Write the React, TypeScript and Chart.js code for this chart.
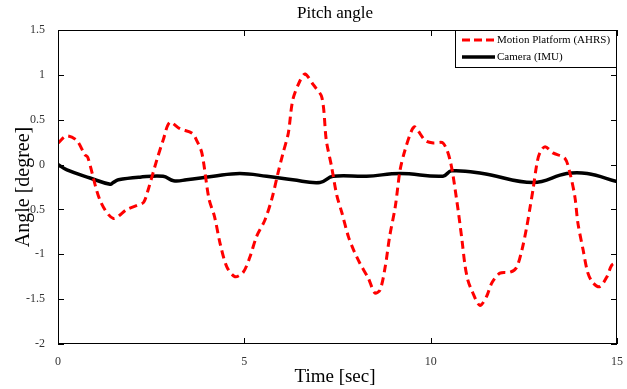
import React, { useEffect, useRef } from 'react';
import { Chart, registerables } from 'chart.js';
Chart.register(...registerables);

const TITLE = 'Pitch angle';
const X_LABEL = 'Time [sec]';
const Y_LABEL = 'Angle [degree]';
const SERIES_NAMES = ['Motion Platform (AHRS)', 'Camera (IMU)'];

const redT = [0, 0.23, 0.5, 0.72, 0.8, 1.13, 1.48, 1.85, 2.15, 2.3, 2.42, 2.65, 2.82, 3.0, 3.27, 3.6, 3.72, 3.86, 4.05, 4.2, 4.35, 4.53, 4.75, 4.97, 5.15, 5.33, 5.55, 5.74, 5.9, 6.04, 6.18, 6.3, 6.5, 6.63, 6.85, 7.08, 7.2, 7.34, 7.48, 7.62, 7.79, 7.93, 8.1, 8.33, 8.5, 8.64, 8.78, 8.9, 9.05, 9.18, 9.31, 9.5, 9.58, 9.85, 10.07, 10.33, 10.52, 10.7, 10.84, 10.92, 11.0, 11.1, 11.32, 11.5, 11.64, 11.86, 12.13, 12.3, 12.45, 12.58, 12.67, 12.75, 12.85, 12.93, 13.07, 13.28, 13.6, 13.74, 13.87, 13.95, 14.09, 14.22, 14.36, 14.54, 14.73, 14.86, 15.0];
const redV = [0.24, 0.32, 0.27, 0.11, 0.08, -0.4, -0.6, -0.5, -0.45, -0.42, -0.28, 0.05, 0.27, 0.47, 0.4, 0.35, 0.27, 0.13, -0.38, -0.58, -0.88, -1.14, -1.25, -1.2, -1.03, -0.8, -0.62, -0.38, -0.1, 0.13, 0.35, 0.72, 0.94, 1.01, 0.89, 0.75, 0.27, -0.02, -0.34, -0.54, -0.8, -0.95, -1.1, -1.27, -1.43, -1.4, -1.14, -0.8, -0.47, -0.06, 0.16, 0.39, 0.42, 0.27, 0.24, 0.24, 0.05, -0.4, -0.84, -1.12, -1.29, -1.4, -1.57, -1.47, -1.32, -1.21, -1.2, -1.15, -0.95, -0.69, -0.47, -0.27, 0.01, 0.13, 0.2, 0.13, 0.07, -0.1, -0.36, -0.65, -0.95, -1.21, -1.32, -1.36, -1.25, -1.12, -1.09];

const blackT = [0, 0.24, 0.86, 1.4, 1.48, 1.62, 2.2, 2.82, 3.1, 3.45, 4.17, 4.88, 5.6, 6.3, 7.03, 7.38, 8.28, 9.18, 10.33, 10.56, 11.4, 12.75, 13.65, 14.2, 15.0];
const blackV = [0, -0.06, -0.15, -0.22, -0.2, -0.17, -0.14, -0.13, -0.18, -0.17, -0.13, -0.1, -0.13, -0.17, -0.2, -0.13, -0.13, -0.1, -0.13, -0.07, -0.1, -0.2, -0.1, -0.1, -0.19];

const xTicks = [0, 5, 10, 15];
const yTicks = [-2, -1.5, -1, -0.5, 0, 0.5, 1, 1.5];

const FONT = '"Liberation Serif", "Times New Roman", serif';

const chrome = {
  id: 'chrome',
  afterDraw(chart: any) {
    const { ctx, chartArea: a, scales } = chart;
    ctx.save();
    // frame
    ctx.strokeStyle = '#000';
    ctx.lineWidth = 1;
    ctx.strokeRect(a.left + 0.5, a.top + 0.5, a.right - a.left - 1, a.bottom - a.top - 1);
    // inside ticks
    ctx.beginPath();
    for (const v of xTicks) {
      const px = Math.round(scales.x.getPixelForValue(v)) + 0.5;
      ctx.moveTo(px, a.bottom); ctx.lineTo(px, a.bottom - 6);
      ctx.moveTo(px, a.top); ctx.lineTo(px, a.top + 6);
    }
    for (const v of yTicks) {
      const py = Math.round(scales.y.getPixelForValue(v)) + 0.5;
      ctx.moveTo(a.left, py); ctx.lineTo(a.left + 6, py);
      ctx.moveTo(a.right, py); ctx.lineTo(a.right - 6, py);
    }
    ctx.stroke();
    // title and axis titles
    ctx.fillStyle = '#000';
    ctx.textAlign = 'center';
    ctx.textBaseline = 'alphabetic';
    ctx.font = '17px ' + FONT;
    ctx.fillText(TITLE, 335, 18);
    ctx.font = '19px ' + FONT;
    ctx.fillText(X_LABEL, 335, 382);
    ctx.save();
    ctx.translate(29, (a.top + a.bottom) / 2);
    ctx.rotate(-Math.PI / 2);
    ctx.font = '20px ' + FONT;
    ctx.fillText(Y_LABEL, 0, 0);
    ctx.restore();
    // legend
    const lx = 455, ly = a.top, lw = a.right - lx, lh = 38;
    ctx.fillStyle = '#fff';
    ctx.fillRect(lx, ly, lw, lh);
    ctx.strokeStyle = '#000';
    ctx.lineWidth = 1;
    ctx.strokeRect(lx + 0.5, ly + 0.5, lw - 1, lh - 1);
    ctx.lineWidth = 3;
    ctx.strokeStyle = '#ff0000';
    ctx.setLineDash([8, 4]);
    ctx.beginPath();
    ctx.moveTo(462, ly + 10); ctx.lineTo(495, ly + 10);
    ctx.stroke();
    ctx.setLineDash([]);
    ctx.strokeStyle = '#000';
    ctx.lineWidth = 3.5;
    ctx.beginPath();
    ctx.moveTo(462, ly + 27); ctx.lineTo(495, ly + 27);
    ctx.stroke();
    ctx.fillStyle = '#000';
    ctx.textAlign = 'left';
    ctx.textBaseline = 'middle';
    ctx.font = '11px ' + FONT;
    ctx.fillText(SERIES_NAMES[0], 497, ly + 10);
    ctx.fillText(SERIES_NAMES[1], 497, ly + 27);
    ctx.restore();
  },
};

const fmt = (v: any) => String(v);

export default function App() {
  const ref = useRef<HTMLCanvasElement>(null);
  useEffect(() => {
    if (!ref.current) return;
    const chart = new Chart(ref.current, {
      type: 'line',
      data: {
        datasets: [
          {
            label: SERIES_NAMES[0],
            data: redT.map((t, i) => ({ x: t, y: redV[i] })),
            borderColor: '#ff0000',
            borderWidth: 3,
            borderDash: [8, 5],
            pointRadius: 0,
            tension: 0.3,
            fill: false,
          },
          {
            label: SERIES_NAMES[1],
            data: blackT.map((t, i) => ({ x: t, y: blackV[i] })),
            borderColor: '#000',
            borderWidth: 3.5,
            pointRadius: 0,
            tension: 0.4,
            fill: false,
          },
        ],
      },
      options: {
        responsive: false,
        animation: false,
        devicePixelRatio: 1,
        layout: { padding: { top: 30, right: 10, left: 0, bottom: 0 } },
        plugins: { legend: { display: false }, title: { display: false }, tooltip: { enabled: false } },
        scales: {
          x: {
            type: 'linear',
            min: 0,
            max: 15,
            afterFit: (s: any) => { s.height = 45; },
            afterBuildTicks: (s: any) => { s.ticks = xTicks.map((v) => ({ value: v })); },
            grid: { display: false },
            border: { display: false },
            ticks: { padding: 3, color: '#333', font: { family: FONT, size: 12 }, maxRotation: 0, autoSkip: false, callback: fmt },
          },
          y: {
            min: -2,
            max: 1.5,
            afterFit: (s: any) => { s.width = 58; },
            afterBuildTicks: (s: any) => { s.ticks = yTicks.map((v) => ({ value: v })); },
            grid: { display: false },
            border: { display: false },
            ticks: { padding: 5, color: '#333', font: { family: FONT, size: 12 }, autoSkip: false, callback: fmt },
          },
        },
      },
      plugins: [chrome],
    });
    return () => chart.destroy();
  }, []);
  return (
    <div style={{ position: 'absolute', left: 0, top: 0, width: 627, height: 389, background: '#fff' }}>
      <canvas ref={ref} width={627} height={389} />
    </div>
  );
}
